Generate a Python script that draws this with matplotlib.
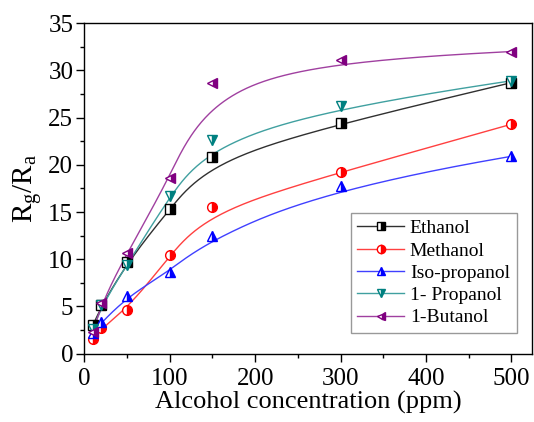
import numpy as np
import matplotlib
matplotlib.use("Agg")
import matplotlib.pyplot as plt
from matplotlib.ticker import MultipleLocator

plt.rcParams['font.family'] = ['Liberation Serif', 'DejaVu Serif']
plt.rcParams['mathtext.fontset'] = 'custom'
plt.rcParams['mathtext.rm'] = 'Liberation Serif'

# Data
conc = [10, 20, 50, 100, 150, 300, 500]
ethanol = [3.0, 5.1, 9.7, 15.3, 20.8, 24.4, 28.7]
methanol = [1.6, 2.7, 4.6, 10.4, 15.5, 19.2, 24.3]
isopropanol = [2.2, 3.3, 6.1, 8.7, 12.5, 17.8, 20.9]
propanol = [2.6, 5.1, 9.4, 16.7, 22.6, 26.2, 28.9]
butanol = [2.3, 5.4, 10.7, 18.6, 28.7, 31.1, 32.0]

series = [
    ("Ethanol", ethanol, "black", "s"),
    ("Methanol", methanol, "red", "o"),
    ("Iso-propanol", isopropanol, "blue", "^"),
    ("1- Propanol", propanol, "#008080", "v"),
    ("1-Butanol", butanol, "#800080", "<"),
]
line_colors = {"black": "#303030", "red": "#ff4040", "blue": "#4040ff",
               "#008080": "#40a0a0", "#800080": "#a040a0"}


def bspline(px, py, n=300, k=3):
    # clamped cubic B-spline with the data points as control points
    P = np.column_stack([px, py]).astype(float)
    m = len(P)
    inner = np.arange(1, m - k)
    t = np.concatenate([np.zeros(k + 1), inner, np.full(k + 1, m - k)]).astype(float)
    us = np.linspace(0, m - k, n)
    out = []
    for u in us:
        # find span
        if u >= t[m]:
            s = m - 1
        else:
            s = np.searchsorted(t, u, side='right') - 1
        d = [P[j + s - k].copy() for j in range(k + 1)]
        for r in range(1, k + 1):
            for j in range(k, r - 1, -1):
                i = j + s - k
                denom = t[i + k + 1 - r] - t[i]
                a = 0.0 if denom == 0 else (u - t[i]) / denom
                d[j] = (1 - a) * d[j - 1] + a * d[j]
        out.append(d[k])
    out = np.array(out)
    return out[:, 0], out[:, 1]


fig = plt.figure(figsize=(5.34, 4.22), dpi=100)
ax = fig.add_axes([0.158, 0.162, 0.838, 0.783])

handles = []
for name, vals, c, mk in series:
    sx, sy = bspline(conc, vals)
    ax.plot(sx, sy, color=line_colors[c], lw=1.0, zorder=2)
    ax.plot(conc, vals, linestyle='none', marker=mk, color=c, markersize=7,
            fillstyle='right', markerfacecoloralt='white', markeredgecolor=c,
            markeredgewidth=1.0, zorder=3)
    h, = ax.plot([], [], color=line_colors[c], lw=1.0, marker=mk, markersize=6,
                 fillstyle='right', markerfacecoloralt='white',
                 markerfacecolor=c, markeredgecolor=c, label=name)
    handles.append(h)

ax.set_xlim(0, 524)
ax.set_ylim(0, 35)
ax.xaxis.set_major_locator(MultipleLocator(100))
ax.xaxis.set_minor_locator(MultipleLocator(50))
ax.yaxis.set_major_locator(MultipleLocator(5))
ax.yaxis.set_minor_locator(MultipleLocator(2.5))
ax.tick_params(which='major', direction='out', length=6, width=1, labelsize=18,
               top=False, right=False)
ax.tick_params(which='minor', direction='out', length=3, width=1,
               top=False, right=False)
ax.tick_params(axis='x', pad=4)
ax.tick_params(axis='y', pad=2)
for sp in ax.spines.values():
    sp.set_linewidth(1.0)

ax.set_xlabel("Alcohol concentration (ppm)", fontsize=19, labelpad=1)
ax.set_ylabel(r"R$_\mathregular{g}$/R$_\mathregular{a}$", fontsize=21, labelpad=2)

leg = ax.legend(handles=handles, loc='lower right', bbox_to_anchor=(0.966, 0.062),
                borderaxespad=0, fontsize=14, frameon=True, fancybox=False,
                handlelength=2.4, handletextpad=0.3, labelspacing=0.24,
                borderpad=0.35)
leg.get_frame().set_edgecolor('#808080')
leg.get_frame().set_linewidth(1.0)

fig.savefig("out.png", dpi=100)
